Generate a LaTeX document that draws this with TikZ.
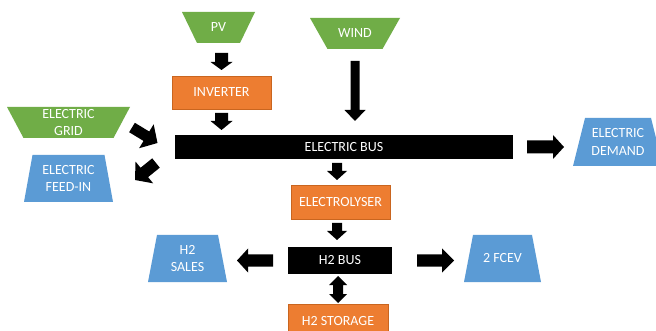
\documentclass[tikz,border=0pt]{standalone}
\usepackage{fontspec}
\setmainfont{Carlito}
\usetikzlibrary{calc,backgrounds}
\definecolor{cgreen}{HTML}{70AD47}
\definecolor{cblue}{HTML}{5B9BD5}
\definecolor{corange}{HTML}{ED7D31}
\definecolor{corangeD}{HTML}{C9651F}
\newcommand\trapwide[3]{\fill[#1] (#2.north west) -- (#2.north east) -- ([xshift=-#3]#2.south east) -- ([xshift=#3]#2.south west) -- cycle;}
\newcommand\trapnarrow[3]{\fill[#1] ([xshift=#3]#2.north west) -- ([xshift=-#3]#2.north east) -- (#2.south east) -- (#2.south west) -- cycle;}
\tikzset{
  fgapa/.store in=\fatA, fgapb/.store in=\fatB, fshaft/.store in=\fatS,
  fhead/.store in=\fatH, fhlen/.store in=\fatL,
  fgapa=0pt, fgapb=0pt, fshaft=6pt, fhead=12pt, fhlen=11pt,
  lbl/.style={text=white, font=\fontsize{14}{17.5}\selectfont, align=center, inner sep=0pt, outer sep=0pt},
  proc/.style={lbl, fill=corange, draw=corangeD, line width=0.6pt},
  busbox/.style={lbl, fill=black},
  src/.style={lbl},
  fatarrow/.style={to path={
    let \p1=($(\tikztostart)!\fatA!(\tikztotarget)$),
        \p2=($(\tikztotarget)!\fatB!(\tikztostart)$),
        \p3=($(\p2)!\fatL!(\p1)$) in
    ($(\p1)!\fatS!90:(\p2)$) -- ($(\p3)!\fatS!90:(\p2)$) -- ($(\p3)!\fatH!90:(\p2)$) -- (\p2)
    -- ($(\p3)!\fatH!-90:(\p2)$) -- ($(\p3)!\fatS!-90:(\p2)$) -- ($(\p1)!\fatS!-90:(\p2)$) -- cycle
  }},
  fatboth/.style={to path={
    let \p1=($(\tikztostart)!\fatA!(\tikztotarget)$),
        \p2=($(\tikztotarget)!\fatB!(\tikztostart)$),
        \p3=($(\p2)!\fatL!(\p1)$),
        \p4=($(\p1)!\fatL!(\p2)$) in
    (\p1) -- ($(\p4)!\fatH!90:(\p2)$) -- ($(\p4)!\fatS!90:(\p2)$) -- ($(\p3)!\fatS!90:(\p2)$) -- ($(\p3)!\fatH!90:(\p2)$) -- (\p2)
    -- ($(\p3)!\fatH!-90:(\p2)$) -- ($(\p3)!\fatS!-90:(\p2)$) -- ($(\p4)!\fatS!-90:(\p2)$) -- ($(\p4)!\fatH!-90:(\p2)$) -- cycle
  }},
}
\begin{document}
\begin{tikzpicture}[x=1pt,y=-1pt]
\useasboundingbox (0,0) rectangle (656,331);
% sources and sinks (trapezoids, filled on background layer)
\node[src, minimum width=73pt, minimum height=31pt] (pv) at (218.5,27.5) {PV};
\node[src, minimum width=90pt, minimum height=31pt] (wind) at (355,33.5) {WIND};
\node[src, minimum width=123pt, minimum height=31pt] (grid) at (68.5,122.5) {ELECTRIC\\GRID};
\node[src, minimum width=89pt, minimum height=47pt] (feed) at (68.5,178.5) {ELECTRIC\\FEED-IN};
\node[src, minimum width=90pt, minimum height=48pt] (demand) at (618,142) {ELECTRIC\\DEMAND};
\node[src, minimum width=79pt, minimum height=47pt] (sales) at (187.5,258.5) {H2\\SALES};
\node[src, minimum width=77pt, minimum height=47pt] (fcev) at (502.5,258.5) {2 FCEV};
% process boxes and buses
\node[proc, minimum width=99pt, minimum height=33pt] (inv) at (221.5,92.5) {INVERTER};
\node[busbox, minimum width=338pt, minimum height=24pt] (bus) at (344,147) {ELECTRIC BUS};
\node[proc, minimum width=99pt, minimum height=34pt] (ely) at (340.5,202) {ELECTROLYSER};
\node[busbox, minimum width=104pt, minimum height=27pt] (h2bus) at (340,260.5) {H2 BUS};
\node[proc, minimum width=100pt, minimum height=34pt] (sto) at (338,321) {H2 STORAGE};
\begin{scope}[on background layer]
\fill[white] (0,0) rectangle (656,331);
\trapwide{cgreen}{pv}{15pt}
\trapwide{cgreen}{wind}{17.5pt}
\trapwide{cgreen}{grid}{16.5pt}
\trapnarrow{cblue}{feed}{8.5pt}
\trapnarrow{cblue}{demand}{12pt}
\trapnarrow{cblue}{sales}{9pt}
\trapnarrow{cblue}{fcev}{9pt}
\end{scope}
% connectors
\coordinate (elyin) at ([xshift=-3.5pt]ely.north);
\coordinate (elyout) at ([xshift=-3.5pt]ely.south);
\coordinate (gridtail) at (132,127.5);
\coordinate (gridtip) at (157.5,143);
\coordinate (feedtail) at (156,163);
\coordinate (feedtip) at (135,180);
\fill[fatarrow, fgapa=10pt, fgapb=6pt, fshaft=6.5pt, fhead=11pt, fhlen=8pt] (inv.north |- pv.south) to (inv.north);
\fill[fatarrow, fgapa=4pt, fgapb=5pt, fshaft=6.5pt, fhead=11pt, fhlen=9pt] (inv.south) to (inv.south |- bus.north);
\fill[fatarrow, fgapa=12pt, fgapb=14pt, fshaft=4.5pt, fhead=10.5pt, fhlen=11pt] (wind.south) to (wind.south |- bus.north);
\fill[fatarrow, fgapa=14pt, fgapb=9pt, fshaft=6.5pt, fhead=12pt, fhlen=11pt] (bus.east) to (bus.east -| demand.west);
\fill[fatarrow, fgapa=4pt, fgapb=5pt, fshaft=5pt, fhead=10pt, fhlen=9pt] (elyin |- bus.south) to (elyin);
\fill[fatarrow, fgapa=4pt, fgapb=7pt, fshaft=5pt, fhead=10pt, fhlen=9pt] (elyout) to (elyout |- h2bus.north);
\fill[fatboth, fgapa=2pt, fgapb=1pt, fshaft=5pt, fhead=9pt, fhlen=9pt] (sto.north |- h2bus.south) to (sto.north);
\fill[fatarrow, fgapa=15pt, fgapb=10pt, fshaft=6pt, fhead=12pt, fhlen=11pt] (h2bus.west) to (h2bus.west -| sales.east);
\fill[fatarrow, fgapa=25pt, fgapb=10pt, fshaft=6pt, fhead=12pt, fhlen=12pt] (h2bus.east) to (h2bus.east -| fcev.west);
\fill[fatarrow, fshaft=5.5pt, fhead=14pt, fhlen=13pt] (gridtail) to (gridtip);
\fill[fatarrow, fshaft=6pt, fhead=14pt, fhlen=12pt] (feedtail) to (feedtip);
\end{tikzpicture}
\end{document}
